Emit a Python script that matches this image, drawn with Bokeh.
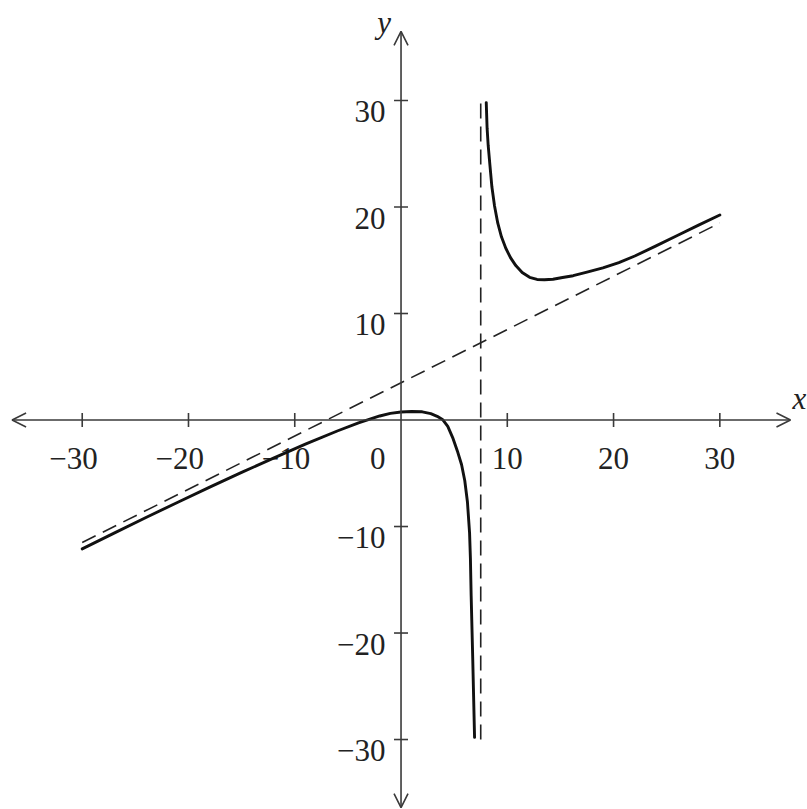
import math
from bokeh.plotting import figure
from bokeh.models import Arrow, OpenHead
from bokeh.core.properties import value
from bokeh.embed import file_html
from bokeh.resources import INLINE

# ---- data ----
left_x = [-30, -27, -24, -21, -18, -15, -12, -9, -6, -4, -2, -1, 0, 1, 2, 2.8, 3.4, 3.9,
          4.4, 4.9, 5.3, 5.7, 6.0, 6.25, 6.45, 6.53, 6.6, 6.75, 6.92]
left_y = [-12.1, -10.62, -9.15, -7.72, -6.3, -4.92, -3.58, -2.27, -1.03, -0.27, 0.38, 0.62,
          0.75, 0.8, 0.77, 0.6, 0.35, 0.05, -0.6, -1.75, -2.9, -4.2, -5.7, -7.7, -10.6,
          -13.0, -16.5, -22.5, -29.8]

right_x = [8.02, 8.1, 8.2, 8.35, 8.55, 8.8, 9.1, 9.45, 9.85, 10.3, 10.8, 11.4, 12.1, 12.8,
           13.5, 14.3, 15.2, 16.2, 17.5, 19, 20.5, 22, 24, 26, 28, 30]
right_y = [29.8, 27.4, 25.8, 24.1, 21.9, 20.1, 18.5, 17.2, 16.15, 15.25, 14.5, 13.85, 13.4,
           13.2, 13.17, 13.22, 13.38, 13.55, 13.88, 14.28, 14.78, 15.4, 16.35, 17.33, 18.3,
           19.25]

oblique_x = [-30, 30]
oblique_y = [-11.5, 18.5]

vertical_x = [7.5, 7.5]
vertical_y = [-30, 30]

x_ticks = [-30, -20, -10, 10, 20, 30]
x_tick_labels = ["\u221230", "\u221220", "\u221210", "10", "20", "30"]
y_ticks = [-30, -20, -10, 10, 20, 30]
y_tick_labels = ["\u221230", "\u221220", "\u221210", "10", "20", "30"]

# ---- figure ----
p = figure(width=807, height=809, x_range=(-37.69, 38.25), y_range=(-36.57, 39.39),
           x_axis_type=None, y_axis_type=None, min_border=0,
           outline_line_color=None, toolbar_location=None, output_backend="svg",
           background_fill_color="white", border_fill_color="white")
p.grid.visible = False

AX = "#3a3a3a"
FONT = value("Liberation Serif")
FS = "31px"

# axes with arrow heads
p.add_layout(Arrow(x_start=-36.6, y_start=0, x_end=36.65, y_end=0,
                   line_color=AX, line_width=1.6,
                   start=OpenHead(size=14, line_color=AX, line_width=1.6),
                   end=OpenHead(size=14, line_color=AX, line_width=1.6)))
p.add_layout(Arrow(x_start=0, y_start=-36.4, x_end=0, y_end=36.5,
                   line_color=AX, line_width=1.6,
                   start=OpenHead(size=14, line_color=AX, line_width=1.6),
                   end=OpenHead(size=14, line_color=AX, line_width=1.6)))

# tick marks
p.scatter(x=x_ticks, y=[0] * len(x_ticks), marker="dash", size=14, angle=math.pi / 2,
          line_color=AX, line_width=1.6)
p.scatter(x=[0] * len(y_ticks), y=y_ticks, marker="dash", size=14, angle=0,
          line_color=AX, line_width=1.6)

# tick labels
p.text(x=x_ticks, y=[0] * len(x_ticks), text=x_tick_labels, text_font=FONT,
       text_font_size=FS, text_align="right", text_baseline="alphabetic",
       x_offset=15.5, y_offset=38, text_color="#222")
p.text(x=[0] * len(y_ticks), y=y_ticks, text=y_tick_labels, text_font=FONT,
       text_font_size=FS, text_align="right", text_baseline="alphabetic",
       x_offset=-15.5, y_offset=11, text_color="#222")
p.text(x=[0], y=[0], text=["0"], text_font=FONT, text_font_size=FS,
       text_align="right", text_baseline="alphabetic", x_offset=-15.5, y_offset=38,
       text_color="#222")

# axis names
p.text(x=[0], y=[36.5], text=["y"], text_font=FONT, text_font_size=FS,
       text_font_style="italic", text_align="center", text_baseline="alphabetic",
       x_offset=-17, y_offset=-9, text_color="#222")
p.text(x=[36.65], y=[0], text=["x"], text_font=FONT, text_font_size=FS,
       text_font_style="italic", text_align="left", text_baseline="alphabetic",
       x_offset=2, y_offset=-22, text_color="#222")

# asymptotes
p.line(oblique_x, oblique_y, line_color="#222", line_width=1.6, line_dash="15 8")
p.line(vertical_x, vertical_y, line_color="#222", line_width=1.6, line_dash="15 8")

# curve branches
p.line(left_x, left_y, line_color="#111", line_width=2.9, line_join="round",
       line_cap="round")
p.line(right_x, right_y, line_color="#111", line_width=2.9, line_join="round",
       line_cap="round")

open("out.html", "w").write(file_html(p, INLINE))
